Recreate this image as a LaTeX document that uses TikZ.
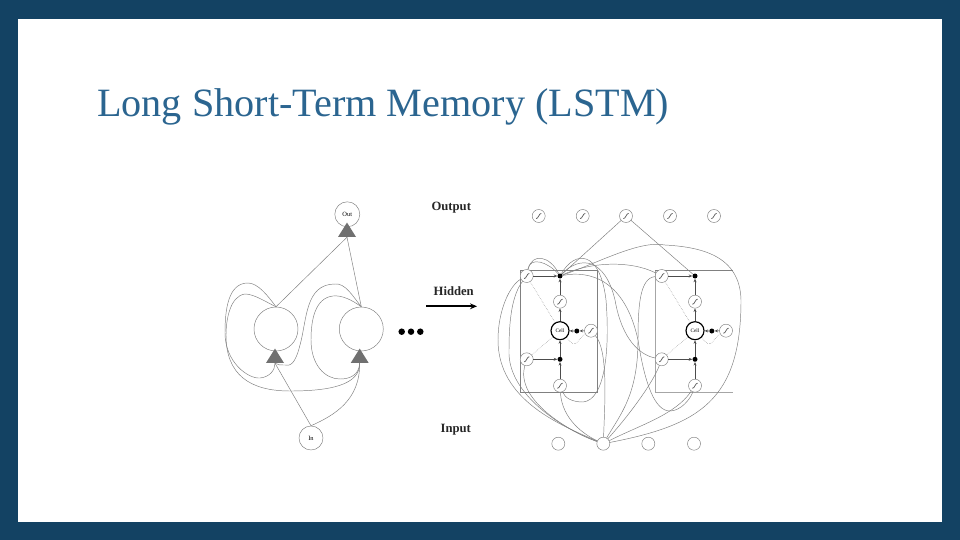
\documentclass[tikz,border=0pt]{standalone}
\usepackage{fontspec}
\setmainfont{Liberation Serif}
\usepackage{xcolor}
\definecolor{framecol}{HTML}{134263}
\definecolor{titlecol}{HTML}{2B6590}
\definecolor{linecol}{HTML}{808080}
\definecolor{tricol}{HTML}{707070}
\usetikzlibrary{arrows.meta, shapes.geometric, positioning, calc}

\tikzset{
  wire/.style={draw=linecol, line width=0.4pt},
  wirelight/.style={draw=linecol!70, line width=0.4pt},
  tip/.style={-{Stealth[length=3pt,width=2.5pt]}, black!70, line width=0.6pt},
  unit/.style={circle, draw=linecol, line width=0.4pt, fill=white, inner sep=0pt},
  tri/.style={isosceles triangle, isosceles triangle apex angle=64, shape border rotate=90,
    fill=tricol, inner sep=0pt, minimum height=10.2*0.03cm, minimum width=18*0.03cm},
  gate/.style={unit, minimum size=13*0.03cm, path picture={
    \draw[black!65, line width=0.6pt] ([shift={(-2.6,2.6)}]path picture bounding box.center)
      .. controls +(1.4,0) and +(-1,1.4) .. ++(2.6,-2.6)
      .. controls +(1,-1.4) and +(-1.4,0) .. ++(2.6,-2.6);}},
  dotnode/.style={circle, fill=black, inner sep=0pt, minimum size=5*0.03cm},
  cellnode/.style={circle, draw=black, line width=1pt, fill=white, inner sep=0pt, minimum size=18*0.03cm,
    font=\fontsize{4.5}{4.5}\selectfont},
  headlabel/.style={font=\fontsize{10.8}{10.8}\selectfont\bfseries, text=black!85},
}

\begin{document}
\begin{tikzpicture}[x=0.03cm, y=-0.03cm, >=Stealth]

  % Frame
  \fill[framecol] (0,0) rectangle (960,540);
  \fill[white] (18,19) rectangle (942,522);
  \node[font=\fontsize{34.3}{34.3}\selectfont, text=titlecol, anchor=base west, inner sep=0pt] (title) at (97,116.5) {Long Short-Term Memory (LSTM)};

  % Left network
  \node[unit, minimum size=25*0.03cm, font=\fontsize{5.5}{5.5}\selectfont] (out) at (347.3,214.3) {Out};
  \node[unit, minimum size=24*0.03cm, font=\fontsize{5.5}{5.5}\selectfont] (in) at (311,438) {In};
  \node[unit, minimum size=44*0.03cm] (hida) at (276,329) {};
  \node[unit, minimum size=44*0.03cm] (hidb) at (361.3,329) {};
  \node[tri] (tout) at (347,232) {};
  \node[tri] (ta) at (275,358) {};
  \node[tri] (tb) at (359.7,358) {};
  \foreach \x/\n in {401.7/a, 411/b, 420.3/c}
    \node[circle, fill=black, inner sep=0pt, minimum size=6.5*0.03cm] (more\n) at (\x,331.7) {};

  \draw[wire] (hida.north) -- (tout.south);
  \draw[wire] (hidb.north) -- (tout.south);
  \draw[wire] (in.north) -- (ta.south);
  \draw[wire] (in.north) .. controls (335,415) and (360,400) .. (tb.south);
  % loops of the first unit
  \draw[wire] (hida.north) .. controls (268,296) and (258,283) .. (248,283)
    .. controls (228,283) and (225,310) .. (225,333)
    .. controls (225,362) and (248,379) .. (260,378)
    .. controls (270,377) and (275,370) .. (ta.south);
  \draw[wire] (hida.north) .. controls (266,302) and (254,294) .. (245,294)
    .. controls (230,296) and (226,320) .. (226,335)
    .. controls (226,375) and (250,391) .. (290,391)
    .. controls (330,391) and (360,385) .. (tb.south);
  % loops of the second unit
  \draw[wire] (hidb.north) .. controls (352,295) and (345,283) .. (335,284)
    .. controls (305,284) and (307,320) .. (300,345)
    .. controls (295,365) and (290,366) .. (285,365)
    .. controls (280,365) and (278,365) .. (ta.south);
  \draw[wire] (hidb.north) .. controls (352,300) and (342,295) .. (333,296)
    .. controls (315,298) and (311,320) .. (311,340)
    .. controls (311,365) and (325,379) .. (340,379)
    .. controls (350,379) and (359,375) .. (tb.south);

  % Column labels
  \node[headlabel] (output) at (451.3,208) {Output};
  \node[headlabel] (hidden) at (453.7,291.5) {Hidden};
  \node[headlabel] (input) at (455.7,430) {Input};
  \coordinate (arrowa) at (426,306.3);
  \coordinate (arrowb) at (477,306.3);
  \draw[-{Stealth[length=6pt,width=5pt]}, line width=1.7pt, black] (arrowa) -- (arrowb);

  % Blocks
  \draw[wire, line width=0.5pt] (520.7,270) rectangle (597.3,392.7);
  \draw[wirelight] (655,392.7) -- (655,270);
  \draw[wire, line width=0.5pt] (655,270) -- (733.3,270);
  \draw[wirelight] (655,392.7) -- (733.3,392.7);

  % Output and input rows
  \foreach \x/\n in {538.7/a, 582.7/b, 626/c, 670/d, 714/e}
    \node[gate] (o\n) at (\x,216) {};
  \foreach \x/\n in {558.3/a, 603.3/b, 648.3/c, 694/d}
    \node[unit, minimum size=13*0.03cm] (i\n) at (\x,443.7) {};

  % Memory blocks
  \foreach \n/\x in {a/560, b/695} {
    \node[gate] (gout\n) at ({\x-33.3},276) {};
    \node[dotnode] (jout\n) at (\x,276) {};
    \node[gate] (gforget\n) at (\x,301.7) {};
    \node[cellnode] (cell\n) at (\x,330.7) {Cell};
    \node[dotnode] (jpeep\n) at ({\x+16.8},331) {};
    \node[gate] (gpeep\n) at ({\x+31},330.7) {};
    \node[gate] (gin\n) at ({\x-33.3},359.3) {};
    \node[dotnode] (jin\n) at (\x,359.3) {};
    \node[gate] (gbot\n) at (\x,385.7) {};
    \draw[tip] (gout\n) -- (jout\n);
    \draw[tip] (gin\n) -- (jin\n);
    \draw[tip] (gforget\n) -- (jout\n);
    \draw[tip] (gbot\n) -- (jin\n);
    \draw[tip] (jin\n) -- (cell\n);
    \draw[tip] (cell\n) -- (gforget\n);
    \draw[tip] (gpeep\n) -- (jpeep\n);
    \draw[tip] (jpeep\n) -- (cell\n);
    \draw[wire, densely dotted] (cell\n) -- (gout\n);
    \draw[wire, densely dotted] (cell\n) -- (gin\n);
    \draw[wire, densely dotted] (cell\n.south east) .. controls +(10,14) and +(-14,8) .. (gpeep\n);
  }

  \draw[wire] (joutb) -- (oc);
  \draw[wire] (jouta) -- (oc);

  % Curves from the first block
  \draw[wire] (jouta) .. controls (550,256) and (532,252) .. (gouta);
  \draw[wire] (jouta) .. controls (548,262) and (530,256) .. (gouta);
  \draw[wire] (jouta) .. controls (575,250) and (600,250) .. (606,300)
    .. controls (610,350) and (605,400) .. (583,402)
    .. controls (572,402) and (565,398) .. (gbota);
  \draw[wire] (jouta) .. controls (580,255) and (605,258) .. (615,300)
    .. controls (622,340) and (640,355) .. (ginb);
  \draw[wire] (jouta) .. controls (590,262) and (630,260) .. (goutb);
  \draw[wire] (jouta) .. controls (600,262) and (640,240) .. (665,245)
    .. controls (700,247) and (740,255) .. (741,300)
    .. controls (741,400) and (700,425) .. (ib);
  \draw[wire] (jouta) .. controls (590,270) and (625,280) .. (638,340)
    .. controls (645,385) and (655,411) .. (670,411)
    .. controls (680,411) and (690,400) .. (gbotb);

  % Curves from the middle input
  \draw[wire] (ib) .. controls (560,425) and (498,400) .. (498,340)
    .. controls (498,310) and (510,285) .. (gouta);
  \draw[wire] (ib) .. controls (565,430) and (507,395) .. (509,350)
    .. controls (509,320) and (512,295) .. (gouta);
  \draw[wire] (ib) .. controls (570,432) and (515,400) .. (gina);
  \draw[wire] (ib) .. controls (585,435) and (562,420) .. (gbota);
  \draw[wire] (ib) .. controls (605,400) and (608,350) .. (gpeepa);
  \draw[wire] (ib) .. controls (620,415) and (638,395) .. (638,340)
    .. controls (638,305) and (640,278) .. (goutb);
  \draw[wire] (ib) .. controls (625,420) and (652,385) .. (ginb);
  \draw[wire] (ib) .. controls (640,425) and (675,415) .. (gbotb);

\end{tikzpicture}
\end{document}
